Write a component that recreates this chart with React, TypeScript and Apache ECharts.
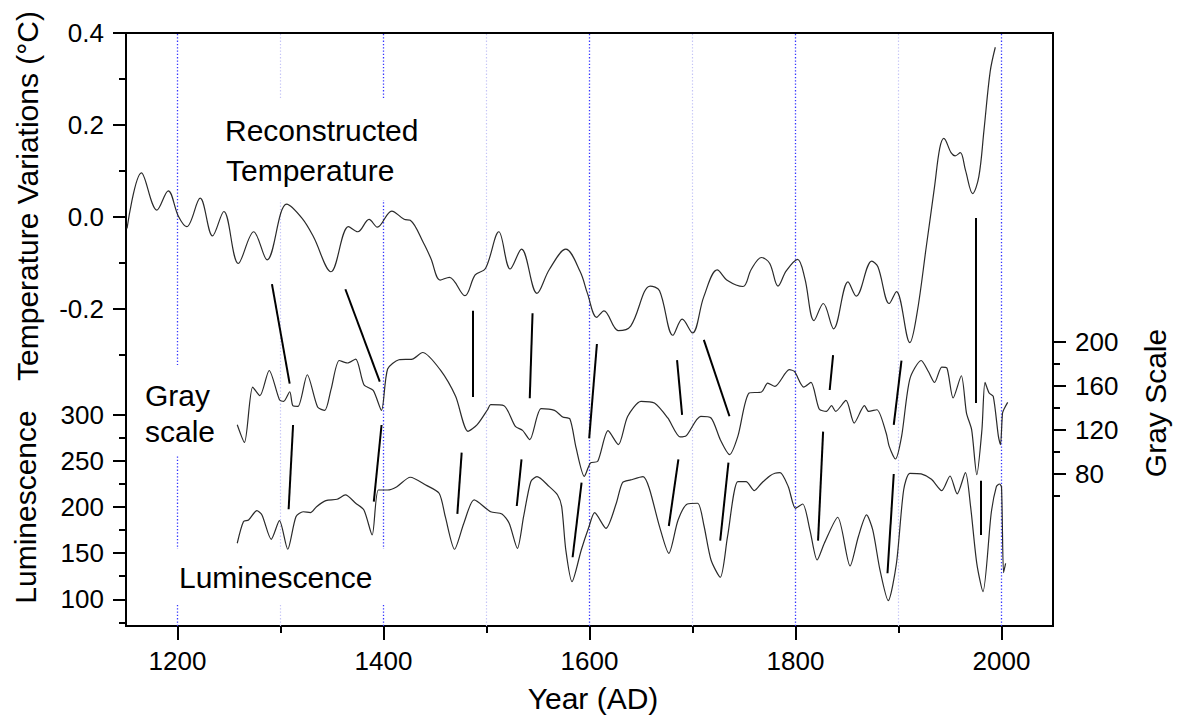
import React, { useEffect, useRef } from "react";
import * as echarts from "echarts";

// ---------- data ----------
const tempYears = [1151, 1165, 1180, 1191, 1201, 1209, 1222, 1234, 1245, 1259, 1274, 1287, 1306, 1321, 1332, 1349, 1366, 1375, 1386, 1394, 1408, 1420, 1426, 1439, 1446, 1455, 1464, 1479, 1489, 1499, 1512, 1523, 1534, 1549, 1561, 1577, 1591, 1598, 1607, 1614, 1628, 1640, 1659, 1668, 1681, 1690, 1700, 1711, 1724, 1734, 1749, 1757, 1767, 1775, 1783, 1791, 1802, 1809, 1818, 1827, 1837, 1851, 1859, 1874, 1880, 1891, 1898, 1911, 1918, 1927, 1935, 1940, 1944, 1951, 1955, 1960, 1965, 1972, 1978, 1983, 1989, 1994];
const tempValues = [-0.025, 0.096, 0.015, 0.057, 0.001, -0.021, 0.041, -0.041, 0.012, -0.101, -0.032, -0.093, 0.028, -0.003, -0.043, -0.119, -0.021, -0.032, -0.005, -0.022, 0.013, -0.005, -0.007, -0.057, -0.09, -0.137, -0.131, -0.171, -0.126, -0.112, -0.032, -0.113, -0.07, -0.166, -0.114, -0.07, -0.119, -0.166, -0.218, -0.204, -0.247, -0.237, -0.15, -0.16, -0.257, -0.222, -0.252, -0.173, -0.115, -0.138, -0.151, -0.114, -0.088, -0.101, -0.15, -0.117, -0.092, -0.133, -0.225, -0.188, -0.243, -0.141, -0.172, -0.096, -0.108, -0.188, -0.162, -0.273, -0.209, -0.064, 0.066, 0.149, 0.171, 0.14, 0.133, 0.14, 0.102, 0.051, 0.088, 0.189, 0.316, 0.369];

const grayYears = [1258, 1265, 1273, 1280, 1289, 1299, 1303, 1309, 1312, 1317, 1326, 1336, 1343, 1349, 1357, 1365, 1373, 1381, 1390, 1398, 1404, 1415, 1428, 1438, 1455, 1470, 1482, 1491, 1501, 1504, 1517, 1528, 1535, 1542, 1553, 1566, 1574, 1581, 1587, 1595, 1601, 1608, 1618, 1628, 1637, 1650, 1663, 1676, 1688, 1694, 1708, 1718, 1727, 1736, 1744, 1755, 1767, 1773, 1780, 1794, 1799, 1808, 1815, 1823, 1830, 1835, 1839, 1849, 1857, 1867, 1871, 1879, 1888, 1891, 1897, 1903, 1911, 1922, 1929, 1935, 1942, 1947, 1953, 1961, 1966, 1971, 1976, 1981, 1984, 1988, 1992, 1997, 1999, 2001, 2003, 2006];
const grayValues = [124.7, 108.6, 159, 151.1, 174.1, 147.4, 145.9, 154.7, 142, 141.4, 170.2, 140.8, 137.7, 156.6, 183.2, 180.9, 184.5, 161.1, 155.9, 137.7, 175.4, 183.9, 184.5, 190.5, 174.8, 150.5, 118.6, 124.7, 138.3, 142.9, 142, 123.1, 119.5, 111, 139.3, 137.7, 131.7, 129.9, 103.5, 77.6, 89.8, 91.3, 119.2, 106.5, 132.2, 145.9, 144.4, 130.8, 113.5, 114.7, 132.2, 130.8, 111, 97.4, 114, 153.6, 154.5, 162.5, 159.6, 174.8, 173.2, 159, 163.2, 139, 136.8, 142, 136.8, 146.8, 126.2, 142, 136.8, 138.3, 117.1, 104.9, 93.4, 114, 166.3, 183.2, 173.2, 163.2, 177.2, 176.3, 149, 169.3, 135.3, 120.1, 79.1, 120.1, 163.2, 153.6, 150.5, 114, 106.5, 135.3, 139.9, 145];

const lumYears = [1258, 1264, 1269, 1277, 1282, 1291, 1299, 1307, 1315, 1322, 1329, 1335, 1344, 1355, 1363, 1373, 1381, 1389, 1395, 1404, 1413, 1426, 1441, 1454, 1460, 1469, 1478, 1488, 1504, 1515, 1522, 1530, 1536, 1543, 1549, 1561, 1569, 1573, 1577, 1583, 1592, 1599, 1605, 1616, 1626, 1632, 1640, 1652, 1658, 1668, 1677, 1686, 1695, 1705, 1711, 1718, 1727, 1734, 1744, 1752, 1760, 1767, 1775, 1780, 1785, 1793, 1800, 1807, 1814, 1821, 1828, 1841, 1853, 1861, 1869, 1875, 1882, 1890, 1898, 1905, 1911, 1922, 1932, 1942, 1950, 1957, 1965, 1970, 1976, 1982, 1990, 1995, 1998, 2000, 2002, 2004];
const lumValues = [160.8, 184.2, 186.1, 196.1, 191.5, 165.1, 185.3, 154.3, 189.6, 195, 194, 200.5, 207, 208.5, 213.2, 204.2, 196.9, 169.8, 218.6, 218.6, 222.2, 232.4, 224, 215, 189.6, 154.3, 182.5, 207.8, 195, 192.6, 182.5, 155.3, 189.6, 227.6, 233, 222.2, 213.2, 200.5, 153.5, 119.1, 153.5, 177, 194, 177, 204.2, 226.5, 229.5, 233, 220.5, 178.8, 149.9, 186, 203.4, 204.2, 180.6, 142.6, 123.9, 167.9, 227.6, 227.6, 217.9, 225.9, 233.8, 236.7, 237.4, 222.2, 198.7, 203.4, 175.2, 142.6, 160.8, 189, 136.1, 167.9, 191.5, 175.2, 131.8, 98.5, 139, 218.6, 236.7, 236, 230.2, 217.9, 233.8, 214.3, 237.4, 200.5, 139, 108.2, 193.3, 222.2, 225.1, 222.2, 128.9, 139];

// tie lines: [year1, value1, year2, value2]
const tempGrayTies = [
  [1291.7, -0.146, 1308.9, -0.362],
  [1363, -0.157, 1396.4, -0.358],
  [1486.9, -0.204, 1486.9, -0.391],
  [1544.7, -0.209, 1542, -0.394],
  [1607.2, -0.276, 1599.7, -0.481],
  [1685, -0.311, 1689.9, -0.43],
  [1711, -0.267, 1735.9, -0.433],
  [1836.5, -0.3, 1833.2, -0.376],
  [1902.9, -0.312, 1895.4, -0.452],
  [1974.9, -0.002, 1974.7, -0.404],
];
const grayLumTies = [
  [1312.2, 289.1, 1307.9, 197.7],
  [1398.1, 289.1, 1390.6, 205.9],
  [1475.9, 259.1, 1471.7, 192.6],
  [1534, 251.9, 1529.4, 201.2],
  [1592.3, 226.5, 1583.6, 145.6],
  [1686.3, 251.9, 1677, 179.5],
  [1734.9, 248.2, 1726.9, 163.6],
  [1826.8, 281.9, 1821.9, 163.6],
  [1895.4, 236, 1889.3, 128.2],
  [1979.8, 228.7, 1979.8, 169.8],
];

const majorYears = [1200, 1400, 1600, 1800, 2000];
const minorYears = [1300, 1500, 1700, 1900];
const tempMajor = [0.4, 0.2, 0, -0.2];
const tempMinor = [0.3, 0.1, -0.1, -0.3];
const lumMajor = [100, 150, 200, 250, 300];
const lumMinor = [75, 125, 175, 225, 275];
const grayMajor = [80, 120, 160, 200];
const grayMinor = [60, 100, 140, 180];

const T_MIN = -0.889;
const T_MAX = 0.4;

const FONT = "'Liberation Sans', Arial, Helvetica, sans-serif";

export default function App() {
  const ref = useRef<HTMLDivElement>(null);
  useEffect(() => {
    const chart = echarts.init(ref.current!, null, { renderer: "svg" });
    const zip = (xs: number[], ys: number[]) => xs.map((x, i) => [x, ys[i]]);
    const tickStyle = { color: "#000", width: 2 };
    const labelStyle = { color: "#000", fontSize: 26, fontFamily: FONT };

    const xBase = {
      type: "value",
      min: 1150,
      max: 2050,
      position: "bottom",
      axisLine: { show: false, onZero: false },
      splitLine: { show: false },
      splitArea: { show: false },
    };
    const yAxisMake = (min: number, max: number, pos: string, vals: number[], major: boolean, fmt?: (v: number) => string) => ({
      type: "value",
      min,
      max,
      position: pos,
      axisLine: { show: false, onZero: false },
      splitLine: { show: false },
      axisTick: { show: true, customValues: vals, length: major ? 13 : 7, lineStyle: tickStyle },
      axisLabel: major
        ? { show: true, customValues: vals, margin: 22, ...labelStyle, formatter: fmt }
        : { show: false },
    });

    const tieLines = (ties: number[][]) =>
      ties.map((t) => [{ coord: [t[0], t[1]] }, { coord: [t[2], t[3]] }]);

    const markLineBase = {
      symbol: ["none", "none"],
      silent: true,
      label: { show: false },
      emphasis: { disabled: true },
    };

    const gridSeries = (years: number[], color: string, width: number) =>
      years.map((yr) => ({
        type: "line",
        z: 1,
        silent: true,
        xAxisIndex: 0,
        yAxisIndex: 0,
        data: [
          [yr, T_MIN],
          [yr, T_MAX],
        ],
        showSymbol: false,
        itemStyle: { color },
        lineStyle: { color, width, type: [1.3, 2], opacity: 1 },
        emphasis: { disabled: true },
      }));

    const text = (t: string, x: number, y: number, align: string, rotation = 0) => ({
      type: "text",
      z: 6,
      x,
      y,
      rotation,
      style: { text: t, font: `30px ${FONT}`, fill: "#000", textAlign: align, textVerticalAlign: "middle" },
    });

    const option: any = {
      animation: false,
      backgroundColor: "#fff",
      grid: { left: 126, right: 125, top: 33, bottom: 94, show: true, borderColor: "#000", borderWidth: 2, backgroundColor: "transparent" },
      xAxis: [
        {
          ...xBase,
          axisTick: { show: true, customValues: majorYears, length: 14, lineStyle: tickStyle },
          axisLabel: { show: true, customValues: majorYears, margin: 22, ...labelStyle, formatter: (v: number) => String(v) },
        },
        {
          ...xBase,
          axisTick: { show: true, customValues: minorYears, length: 7, lineStyle: tickStyle },
          axisLabel: { show: false },
        },
      ],
      yAxis: [
        yAxisMake(T_MIN, T_MAX, "left", tempMajor, true, (v: number) => v.toFixed(1)),
        yAxisMake(T_MIN, T_MAX, "left", tempMinor, false),
        yAxisMake(71, 714.5, "left", lumMajor, true, (v: number) => String(v)),
        yAxisMake(71, 714.5, "left", lumMinor, false),
        yAxisMake(-58.8, 481.7, "right", grayMajor, true, (v: number) => String(v)),
        yAxisMake(-58.8, 481.7, "right", grayMinor, false),
      ],
      graphic: [
        { type: "rect", z: 5, shape: { x: 215, y: 98, width: 216, height: 102 }, style: { fill: "#fff" } },
        { type: "rect", z: 5, shape: { x: 137, y: 365, width: 90, height: 90 }, style: { fill: "#fff" } },
        { type: "rect", z: 5, shape: { x: 166, y: 549, width: 222, height: 54 }, style: { fill: "#fff" } },
        text("Reconstructed", 225, 130, "left"),
        text("Temperature", 226, 170, "left"),
        text("Gray", 145, 395, "left"),
        text("scale", 145, 431, "left"),
        text("Luminescence", 179, 577, "left"),
        text("Year (AD)", 593, 698, "center"),
        text("Temperature Variations (°C)", 27, 196, "center", Math.PI / 2),
        text("Luminescence", 25, 507, "center", Math.PI / 2),
        text("Gray Scale", 1155, 403, "center", Math.PI / 2),
      ],
      series: [
        ...gridSeries(minorYears, "#c4c4f6", 1.2),
        ...gridSeries(majorYears, "#3535ff", 1.3),
        {
          name: "Reconstructed Temperature",
          type: "line",
          z: 10,
          xAxisIndex: 0,
          yAxisIndex: 0,
          data: zip(tempYears, tempValues),
          showSymbol: false,
          smooth: 0.35,
          lineStyle: { color: "#2a2a2a", width: 1.2 },
          markLine: { ...markLineBase, lineStyle: { color: "#000", width: 2, type: "solid" }, data: tieLines(tempGrayTies) },
        },
        {
          name: "Gray scale",
          type: "line",
          z: 10,
          xAxisIndex: 0,
          yAxisIndex: 4,
          data: zip(grayYears, grayValues),
          showSymbol: false,
          smooth: 0.25,
          lineStyle: { color: "#2a2a2a", width: 1.2 },
        },
        {
          name: "Luminescence",
          type: "line",
          z: 10,
          xAxisIndex: 0,
          yAxisIndex: 2,
          data: zip(lumYears, lumValues),
          showSymbol: false,
          smooth: 0.25,
          lineStyle: { color: "#2a2a2a", width: 1.2 },
          markLine: { ...markLineBase, lineStyle: { color: "#000", width: 2, type: "solid" }, data: tieLines(grayLumTies) },
        },
      ],
    };
    chart.setOption(option);
    return () => chart.dispose();
  }, []);
  return (
    <div
      ref={ref}
      style={{ position: "absolute", left: 0, top: 0, width: 1178, height: 720, background: "#fff" }}
    />
  );
}
